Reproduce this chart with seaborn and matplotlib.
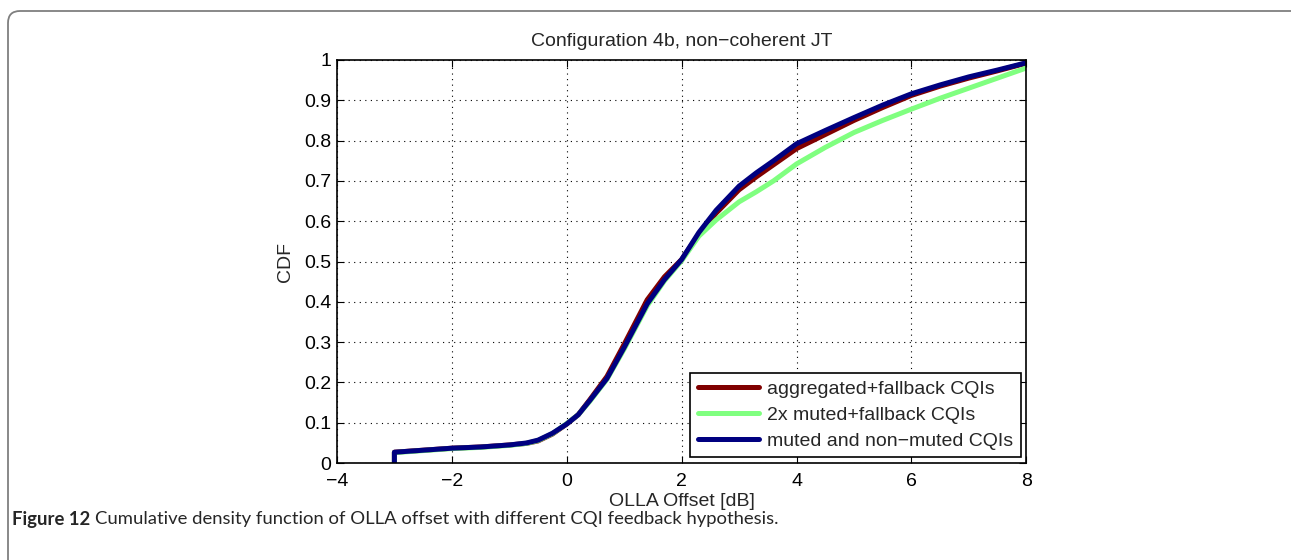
import numpy as np
import pandas as pd
import matplotlib
matplotlib.use("Agg")
import matplotlib.pyplot as plt
import seaborn as sns
from matplotlib.patches import FancyBboxPatch
from matplotlib.transforms import IdentityTransform

# values
x_agg = [-3, -3, -2.5, -2, -1.5, -1, -0.7, -0.5, -0.25, 0, 0.2, 0.4, 0.7, 1.0, 1.4, 1.7, 2.0,
         2.3, 2.6, 3.0, 3.3, 3.6, 4.0, 4.5, 5.0, 5.5, 6.0, 6.5, 7.0, 7.5, 8.0]
y_agg = [0, 0.027, 0.032, 0.037, 0.040, 0.045, 0.049, 0.055, 0.072, 0.097, 0.12, 0.157, 0.215,
         0.295, 0.405, 0.462, 0.505, 0.568, 0.62, 0.678, 0.71, 0.74, 0.78, 0.815, 0.85,
         0.882, 0.912, 0.935, 0.955, 0.973, 0.992]

x_mut2 = [-3, -3, -2.5, -2, -1.5, -1, -0.7, -0.5, -0.25, 0, 0.2, 0.4, 0.7, 1.0, 1.4, 1.7, 2.0,
          2.3, 2.6, 3.0, 3.3, 3.6, 4.0, 4.5, 5.0, 5.5, 6.0, 6.5, 7.0, 7.5, 8.0]
y_mut2 = [0, 0.026, 0.031, 0.036, 0.039, 0.044, 0.049, 0.056, 0.073, 0.098, 0.12, 0.153, 0.208,
          0.283, 0.39, 0.452, 0.502, 0.563, 0.603, 0.648, 0.673, 0.70, 0.742, 0.783, 0.82,
          0.85, 0.878, 0.905, 0.93, 0.955, 0.98]

x_mix = [-3, -3, -2.5, -2, -1.5, -1, -0.7, -0.5, -0.25, 0, 0.2, 0.4, 0.7, 1.0, 1.4, 1.7, 2.0,
         2.3, 2.6, 3.0, 3.3, 3.6, 4.0, 4.5, 5.0, 5.5, 6.0, 6.5, 7.0, 7.5, 8.0]
y_mix = [0, 0.027, 0.032, 0.037, 0.040, 0.045, 0.050, 0.057, 0.074, 0.097, 0.12, 0.155, 0.21,
         0.287, 0.395, 0.455, 0.505, 0.572, 0.627, 0.687, 0.72, 0.75, 0.792, 0.825, 0.857,
         0.888, 0.916, 0.938, 0.958, 0.975, 0.993]

labels = ["aggregated+fallback CQIs", "2x muted+fallback CQIs", "muted and non\u2212muted CQIs"]
colors = ["#800000", "#80ff80", "#000080"]

x_ticks = [-4, -2, 0, 2, 4, 6, 8]
y_ticks = [0, 0.1, 0.2, 0.3, 0.4, 0.5, 0.6, 0.7, 0.8, 0.9, 1]
y_ticklabels = ["0", "0.1", "0.2", "0.3", "0.4", "0.5", "0.6", "0.7", "0.8", "0.9", "1"]

sns.set_style("ticks")
plt.rcParams["font.family"] = ["Liberation Sans", "DejaVu Sans"]
plt.rcParams["axes.unicode_minus"] = True

FS = 14

fig = plt.figure(figsize=(12.91, 5.6), dpi=100)
ax = fig.add_axes([0.261, 0.173, 0.534, 0.720])

series = [(x_agg, y_agg), (x_mut2, y_mut2), (x_mix, y_mix)]
for (xs, ys), lab, col in zip(series, labels, colors):
    df = pd.DataFrame({"x": xs, "y": ys})
    sns.lineplot(data=df, x="x", y="y", ax=ax, color=col, lw=3.6, label=lab,
                 sort=False, estimator=None)

ax.set_xlim(-4, 8)
ax.set_ylim(0, 1)
ax.set_xticks(x_ticks)
ax.set_yticks(y_ticks)
ax.set_yticklabels(y_ticklabels)
ax.grid(True, linestyle=(0, (1, 4)), color="black", lw=0.8)
ax.tick_params(direction="in", length=5, width=0.8, top=True, right=True,
               labelsize=FS, colors="black")
ax.tick_params(axis="x", pad=7)
ax.tick_params(axis="y", pad=4)
for s in ax.spines.values():
    s.set_visible(True)
    s.set_color("black")
    s.set_linewidth(1.2)
ax.set_xlabel("OLLA Offset [dB]", fontsize=FS, labelpad=2)
ax.set_ylabel("CDF", fontsize=FS, labelpad=7)
ax.set_title("Configuration 4b, non\u2212coherent JT", fontsize=FS, pad=10)

leg = ax.legend(loc="lower right", fontsize=FS, frameon=True, fancybox=False,
                edgecolor="black", framealpha=1, handlelength=3.15, handletextpad=0.4,
                borderaxespad=0.3, labelspacing=0.42, borderpad=0.4)
leg.get_frame().set_linewidth(1.2)
for h in leg.get_lines():
    h.set_linewidth(3.6)

# rounded frame around the figure (only top-left corner visible)
frame = FancyBboxPatch((8, -40), 1400, 560 - 11 + 40,
                       boxstyle="round,pad=0,rounding_size=12",
                       transform=IdentityTransform(), fill=False,
                       edgecolor="#7f7f7f", lw=1.3, clip_on=False)
fig.patches.append(frame)

# caption: bold prefix then regular text
renderer = fig.canvas.get_renderer()
t1 = fig.text(12 / 1291, 1 - 519 / 560, "Figure 12", fontsize=13.3, fontweight="bold",
              family=["Lato", "DejaVu Sans"], va="center", ha="left")
bb = t1.get_window_extent(renderer)
fig.text(bb.x1 / 1291 + 5 / 1291, 1 - 519 / 560,
         "Cumulative density function of OLLA offset with different CQI feedback hypothesis.",
         fontsize=13.3, family=["Lato", "DejaVu Sans"], va="center", ha="left")

fig.savefig("out.png", dpi=100)
